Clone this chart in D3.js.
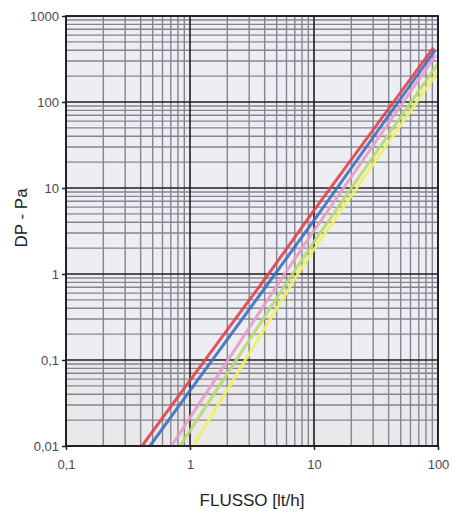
<!DOCTYPE html>
<html>
<head>
<meta charset="utf-8">
<script src="https://cdn.jsdelivr.net/npm/d3@7"></script>
<style>
  body { margin: 0; background: #fff; }
  text { font-family: "Liberation Sans", Arial, sans-serif; }
</style>
</head>
<body>
<script>
const WIDTH = 452;
const HEIGHT = 516;
const MARGIN = {top: 16, right: 14, bottom: 70, left: 66};

// tick values and labels
const X_TICKS = [0.1, 1, 10, 100];
const X_LABELS = ["0,1", "1", "10", "100"];
const Y_TICKS = [0.01, 0.1, 1, 10, 100, 1000];
const Y_LABELS = ["0,01", "0,1", "1", "10", "100", "1000"];

// curves (flow lt/h, pressure drop Pa)
const RED_X = [0.41, 1, 4.3, 10, 92];
const RED_Y = [0.01, 0.058, 1, 5.5, 430];
const BLUE_X = [0.475, 1, 4.85, 10, 95];
const BLUE_Y = [0.01, 0.044, 1, 4.2, 400];
const PINK_X = [0.71, 1, 5.8, 10, 96];
const PINK_Y = [0.01, 0.0214, 1, 3.2, 350];
const GREEN_X = [0.83, 1, 6.7, 10, 98];
const GREEN_Y = [0.01, 0.015, 1, 2.37, 270];
const YELLOW_X = [1.06, 2, 7.4, 10, 100];
const YELLOW_Y = [0.01, 0.045, 1, 1.94, 225];

const SERIES = [
  {xs: YELLOW_X, ys: YELLOW_Y, color: "#eef25a"},
  {xs: GREEN_X, ys: GREEN_Y, color: "#bcd86a"},
  {xs: PINK_X, ys: PINK_Y, color: "#e89cc4"},
  {xs: BLUE_X, ys: BLUE_Y, color: "#3f6fc2"},
  {xs: RED_X, ys: RED_Y, color: "#e2434c"}
];

const svg = d3.select("body")
              .append("svg")
              .attr("width", WIDTH)
              .attr("height", HEIGHT);

const xScale = d3.scaleLog()
                 .domain([0.1, 100])
                 .range([MARGIN.left, WIDTH - MARGIN.right]);
const yScale = d3.scaleLog()
                 .domain([0.01, 1000])
                 .range([HEIGHT - MARGIN.bottom, MARGIN.top]);

const [x0, x1] = xScale.range();
const [y0, y1] = yScale.range();

// background
svg.append("rect")
   .attr("x", x0).attr("y", y1)
   .attr("width", x1 - x0).attr("height", y0 - y1)
   .attr("fill", "#ededf4");
svg.append("rect")
   .attr("x", x0).attr("y", yScale(0.1))
   .attr("width", x1 - x0).attr("height", y0 - yScale(0.1))
   .attr("fill", "#e9e9eb");

// minor grid
const minorX = xScale.ticks().filter(d => !X_TICKS.includes(d));
const minorY = yScale.ticks().filter(d => !Y_TICKS.some(t => Math.abs(t - d) / t < 1e-6));

const grid = svg.append("g");
grid.selectAll(".vx")
    .data(minorX)
    .enter()
    .append("line")
    .attr("x1", d => xScale(d)).attr("x2", d => xScale(d))
    .attr("y1", y0).attr("y2", y1)
    .attr("stroke", "#85858f")
    .attr("stroke-width", 1.4);
grid.selectAll(".hy")
    .data(minorY)
    .enter()
    .append("line")
    .attr("y1", d => yScale(d)).attr("y2", d => yScale(d))
    .attr("x1", x0).attr("x2", x1)
    .attr("stroke", "#85858f")
    .attr("stroke-width", 1.4);

// major grid
grid.selectAll(".mx")
    .data(X_TICKS)
    .enter()
    .append("line")
    .attr("x1", d => xScale(d)).attr("x2", d => xScale(d))
    .attr("y1", y0).attr("y2", y1)
    .attr("stroke", "#1e1e1e")
    .attr("stroke-width", 1.6);
grid.selectAll(".my")
    .data(Y_TICKS)
    .enter()
    .append("line")
    .attr("y1", d => yScale(d)).attr("y2", d => yScale(d))
    .attr("x1", x0).attr("x2", x1)
    .attr("stroke", "#1e1e1e")
    .attr("stroke-width", 1.6);

// curves
svg.append("clipPath")
   .attr("id", "plot-clip")
   .append("rect")
   .attr("x", x0).attr("y", y1)
   .attr("width", x1 - x0).attr("height", y0 - y1);

const line = d3.line()
               .x(d => xScale(d[0]))
               .y(d => yScale(d[1]));

svg.append("g")
   .attr("clip-path", "url(#plot-clip)")
   .selectAll("path")
   .data(SERIES)
   .enter()
   .append("path")
   .attr("d", s => line(s.xs.map((x, i) => [x, s.ys[i]])))
   .attr("fill", "none")
   .attr("stroke", s => s.color)
   .attr("stroke-width", 3)
   .attr("stroke-linejoin", "round")
   .attr("stroke-opacity", 0.9);

// axes
const xAxis = d3.axisBottom(xScale)
                .tickValues(X_TICKS)
                .tickFormat((d, i) => X_LABELS[i])
                .tickSize(4)
                .tickPadding(10);
const yAxis = d3.axisLeft(yScale)
                .tickValues(Y_TICKS)
                .tickFormat((d, i) => Y_LABELS[i])
                .tickSize(4)
                .tickPadding(3);

const gx = svg.append("g")
              .attr("transform", "translate(0," + y0 + ")")
              .call(xAxis);
const gy = svg.append("g")
              .attr("transform", "translate(" + x0 + ",0)")
              .call(yAxis);

[gx, gy].forEach(g => {
  g.select(".domain").remove();
  g.selectAll(".tick line").attr("stroke", "#1e1e1e").attr("stroke-width", 1.5);
  g.selectAll(".tick text")
   .attr("fill", "#4a4a4a")
   .style("font-size", "13px")
   .style("font-family", "'Liberation Sans', Arial, sans-serif");
});

// frame
svg.append("rect")
   .attr("x", x0).attr("y", y1)
   .attr("width", x1 - x0).attr("height", y0 - y1)
   .attr("fill", "none")
   .attr("stroke", "#1e1e1e")
   .attr("stroke-width", 1.8);

// titles
svg.append("text")
   .attr("x", (x0 + x1) / 2)
   .attr("y", 506)
   .attr("text-anchor", "middle")
   .attr("fill", "#222")
   .style("font-size", "17px")
   .text("FLUSSO [lt/h]");

svg.append("text")
   .attr("transform", "translate(27,218) rotate(-90)")
   .attr("text-anchor", "middle")
   .attr("fill", "#222")
   .style("font-size", "17px")
   .text("DP - Pa");
</script>
</body>
</html>
